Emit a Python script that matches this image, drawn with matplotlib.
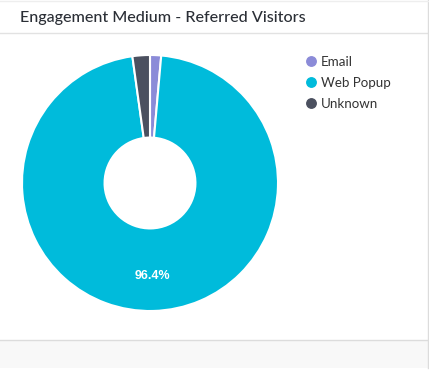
import matplotlib
matplotlib.use("Agg")
import matplotlib.pyplot as plt
from matplotlib.lines import Line2D
from matplotlib.patches import Rectangle

title = "Engagement Medium - Referred Visitors"
categories = ["Email", "Web Popup", "Unknown"]
values = [1.4, 96.4, 2.2]
colors = ["#8b8bd8", "#00bbdb", "#4b505f"]

W, H = 429, 371
fig = plt.figure(figsize=(W / 100, H / 100), dpi=100)
fig.patch.set_facecolor("white")

def fx(px):
    return px / W

def fy(py):
    return 1 - py / H

# card decorations
fig.add_artist(Line2D([0, fx(428)], [fy(32.5), fy(32.5)], color="#e2e2e2", lw=1))
fig.add_artist(Rectangle((0, fy(368)), fx(427.5), fy(339.5) - fy(368),
                         facecolor="#f8f8f8", edgecolor="none"))
fig.add_artist(Line2D([0, fx(428)], [fy(339.5), fy(339.5)], color="#dcdcdc", lw=1))
fig.add_artist(Line2D([fx(427.5), fx(427.5)], [fy(0), fy(368)], color="#dcdcdc", lw=1))
fig.add_artist(Line2D([0, fx(428)], [fy(0.5), fy(0.5)], color="#eeeeee", lw=1))

fig.text(fx(20), fy(18), title, fontsize=11.6, color="#2b2f36",
         family=["Lato", "DejaVu Sans"], fontweight="medium",
         va="center", ha="left")

# donut
ax = fig.add_axes([fx(22), fy(311), 256 / W, 256 / H])
ax.set_aspect("equal")
wedges, texts, autotexts = ax.pie(
    values, colors=colors, startangle=90, counterclock=False,
    radius=1.0,
    wedgeprops=dict(width=0.645, edgecolor="white", linewidth=1.5),
    autopct=lambda p: f"{p:.1f}%" if p > 5 else "",
    pctdistance=0.73,
    textprops=dict(color="white", fontsize=9, fontweight="bold",
                   family=["Liberation Sans", "DejaVu Sans"]),
)
ax.set_xlim(-1.0, 1.0)
ax.set_ylim(-1.0, 1.0)
ax.axis("off")

handles = [Line2D([0], [0], marker="o", linestyle="none", markersize=6.8,
                  markerfacecolor=c, markeredgecolor=c) for c in colors]
leg = fig.legend(handles, categories, loc="upper left",
                 bbox_to_anchor=(fx(306), fy(56)), frameon=False,
                 handlelength=0.8, handletextpad=0.3, labelspacing=0.68,
                 borderaxespad=0, borderpad=0,
                 prop=dict(size=9.6, family=["Lato", "DejaVu Sans"]))
for t in leg.get_texts():
    t.set_color("#333333")

fig.savefig("out.png", dpi=100)
